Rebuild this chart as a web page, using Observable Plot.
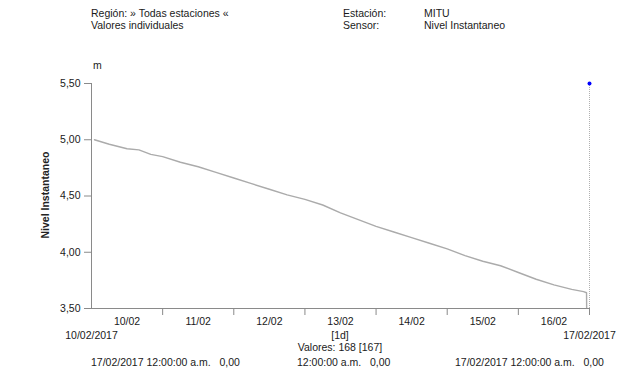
<!DOCTYPE html>
<html><head><meta charset="utf-8">
<script src="https://cdn.jsdelivr.net/npm/d3@7"></script>
<script src="https://cdn.jsdelivr.net/npm/@observablehq/plot@0.6"></script>
<style>
body{margin:0;background:#fff;font-family:"Liberation Sans",Arial,sans-serif;}
#wrap{position:relative;width:617px;height:377px;overflow:hidden;background:#fff}
#chart{position:absolute;left:0;top:0}
.t{position:absolute;font-size:10.5px;color:#1a1a1a;white-space:pre;line-height:1}
.c{transform:translateX(-50%)}
#topline{position:absolute;left:0;top:6px;width:617px;height:1px;background:#e2e2ee}
#ylab{position:absolute;left:45px;top:195px;font-size:10.5px;font-weight:bold;color:#222;white-space:pre;transform:translate(-50%,-50%) rotate(-90deg)}
</style></head><body>
<div id="wrap">
<div id="topline"></div>
<div id="chart"></div>
</div>
<script>
// ---- data ----
const startDate = "2017-02-10T00:00:00Z";
const hoursFromStart = [1, 6, 12, 16, 20, 24, 30, 36, 42, 48, 54, 60, 66, 72, 78, 84, 90, 96, 102, 108, 114, 120, 126, 132, 138, 144, 150, 156, 162, 166, 167, 168];
const levelM = [5.00, 4.96, 4.92, 4.91, 4.87, 4.85, 4.80, 4.76, 4.71, 4.66, 4.61, 4.56, 4.51, 4.47, 4.42, 4.35, 4.29, 4.23, 4.18, 4.13, 4.08, 4.03, 3.97, 3.92, 3.88, 3.82, 3.76, 3.71, 3.67, 3.65, 3.64, 0.00];
const dayTicks = ["2017-02-11", "2017-02-12", "2017-02-13", "2017-02-14", "2017-02-15", "2017-02-16", "2017-02-17"];
const dayLabelPos = ["2017-02-10T12:00Z", "2017-02-11T12:00Z", "2017-02-12T12:00Z", "2017-02-13T12:00Z", "2017-02-14T12:00Z", "2017-02-15T12:00Z", "2017-02-16T12:00Z"];
const rangeDates = ["2017-02-10", "2017-02-17"];
const yTicks = [3.5, 4.0, 4.5, 5.0, 5.5];
const markerDate = ["2017-02-17"];
const markerValue = [5.5];

const headerLeft = ["Región: » Todas estaciones «", "Valores individuales"];
const headerKeys = ["Estación:", "Sensor:"];
const headerVals = ["MITU", "Nivel Instantaneo"];
const unitLabel = "m";
const yAxisTitle = "Nivel Instantaneo";
const intervalText = "[1d]";
const countText = "Valores: 168 [167]";
const footerTexts = ["17/02/2017 12:00:00 a.m.   0,00", "12:00:00 a.m.   0,00", "17/02/2017 12:00:00 a.m.   0,00"];

// ---- build ----
const t0 = new Date(startDate).getTime();
const series = hoursFromStart.map((h, i) => ({date: new Date(t0 + h * 3600e3), v: levelM[i]}));
const ticksD = dayTicks.map(d => new Date(d));
const labelsD = dayLabelPos.map(d => new Date(d));
const rangeD = rangeDates.map(d => new Date(d));
const marker = markerDate.map((d, i) => ({date: new Date(d), v: markerValue[i]}));
const fixed2 = d3.format(".2f");
const fmtY = d => fixed2(d).replace(".", ",");
const fmtDay = d3.utcFormat("%d/%m");
const fmtFull = d3.utcFormat("%d/%m/%Y");

const W = 617, H = 377;
const plot = Plot.plot({
  width: W, height: H,
  marginLeft: 91, marginRight: 28, marginTop: 83, marginBottom: 69,
  style: {fontFamily: '"Liberation Sans", Arial, sans-serif', fontSize: "10.5px", color: "#1a1a1a", background: "#fff"},
  x: {type: "utc", domain: rangeD},
  y: {domain: [3.5, 5.5]},
  marks: [
    Plot.axisY({ticks: yTicks, tickFormat: fmtY, tickSize: 7, tickPadding: 4, label: null, stroke: "#8a8a8a"}),
    Plot.axisX({ticks: ticksD, tickFormat: () => "", tickSize: 7, label: null, stroke: "#8a8a8a"}),
    Plot.axisX({ticks: labelsD, tickFormat: fmtDay, tickSize: 0, tickPadding: 9, label: null}),
    Plot.axisX({ticks: rangeD, tickFormat: fmtFull, tickSize: 0, tickPadding: 23, label: null}),
    Plot.ruleX([rangeD[0]], {y1: 3.5, y2: 5.5, stroke: "#8a8a8a", strokeWidth: 1}),
    Plot.ruleY([3.5], {stroke: "#8a8a8a", strokeWidth: 1}),
    Plot.ruleX(marker, {x: "date", y1: 3.5, y2: "v", stroke: "#b0b0b0", strokeDasharray: "1,1"}),
    Plot.line(series, {x: "date", y: "v", stroke: "#ababab", strokeWidth: 1.4, clip: true}),
    Plot.dot(marker, {x: "date", y: "v", r: 2, fill: "#0000ff", stroke: "none"})
  ]
});
document.getElementById("chart").appendChild(plot);

// overlay texts
const wrap = document.getElementById("wrap");
function addText(txt, left, top, cls) {
  const el = document.createElement("div");
  el.className = "t" + (cls ? " " + cls : "");
  el.textContent = txt;
  el.style.left = left + "px";
  el.style.top = top + "px";
  wrap.appendChild(el);
  return el;
}
const xs = d3.scaleUtc().domain(rangeD).range([91, W - 28]);
headerLeft.forEach((s, i) => addText(s, 91, 8 + i * 12));
headerKeys.forEach((s, i) => addText(s, 343, 8 + i * 12));
headerVals.forEach((s, i) => addText(s, 424, 8 + i * 12));
addText(unitLabel, 93, 60);
const yl = document.createElement("div");
yl.id = "ylab"; yl.textContent = yAxisTitle; wrap.appendChild(yl);
const midX = xs(labelsD[3]);
addText(intervalText, midX, 330, "c");
addText(countText, midX, 342, "c");
addText(footerTexts[0], 91, 357);
addText(footerTexts[1], 297, 357);
addText(footerTexts[2], 455, 357);
</script>
</body></html>
